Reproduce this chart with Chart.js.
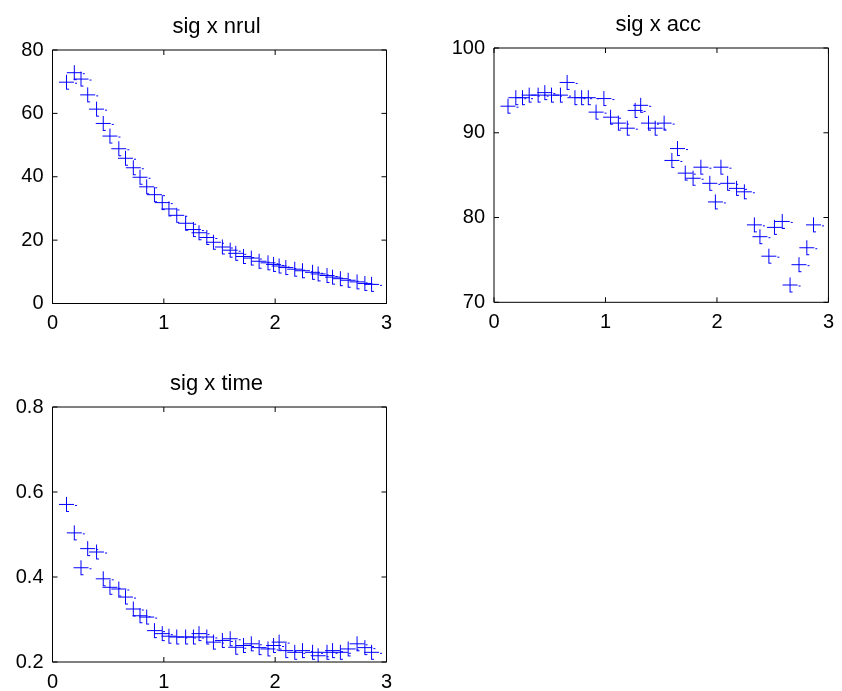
<!DOCTYPE html>
<html>
<head>
<meta charset="utf-8">
<script src="https://cdn.jsdelivr.net/npm/chart.js@4.4.0/dist/chart.umd.min.js"></script>
<style>
  body { margin: 0; background: #fff; }
  #wrap { position: relative; width: 842px; height: 691px; }
  canvas { position: absolute; }
</style>
</head>
<body>
<div id="wrap">
  <canvas id="c1" width="410" height="340" style="left:0;top:0"></canvas>
  <canvas id="c2" width="402" height="340" style="left:440px;top:0"></canvas>
  <canvas id="c3" width="410" height="341" style="left:0;top:350px"></canvas>
</div>
<script>
// sig values (x) shared by all three subplots
const sigValues = [0.13, 0.20, 0.26, 0.32, 0.40, 0.46, 0.52, 0.60, 0.66, 0.73, 0.79, 0.85, 0.92, 0.99,
  1.05, 1.12, 1.20, 1.27, 1.32, 1.39, 1.45, 1.53, 1.60, 1.65, 1.72, 1.79, 1.86, 1.94, 1.99, 2.04,
  2.10, 2.18, 2.25, 2.34, 2.39, 2.47, 2.52, 2.59, 2.66, 2.74, 2.81, 2.87];

const nrulValues = [70, 73, 71, 66, 61.5, 57, 53, 49, 46, 43, 40, 37, 34.5, 32,
  30, 28, 25.5, 23.5, 22.5, 21, 19.5, 18, 17, 16, 15, 14.5, 13.5, 13, 12.5, 12,
  11.5, 11, 10.5, 10, 9.5, 9, 8.5, 8, 7.5, 7, 6.5, 6.2];

const accValues = [93.2, 94.2, 94.2, 94.5, 94.5, 94.8, 94.5, 94.5, 96.0, 94.2, 94.2, 94.2, 92.5, 94.1,
  91.9, 91.2, 90.6, 92.7, 93.3, 91.2, 90.6, 91.2, 86.8, 88.2, 85.3, 84.7, 86.0, 84.1, 81.9, 86.0,
  84.1, 83.5, 83.1, 79.2, 77.8, 75.5, 78.9, 79.6, 72.1, 74.5, 76.5, 79.2];

const timeValues = [0.572, 0.505, 0.423, 0.468, 0.46, 0.397, 0.377, 0.373, 0.354, 0.326, 0.31, 0.307, 0.275, 0.268,
  0.262, 0.26, 0.26, 0.26, 0.268, 0.26, 0.248, 0.252, 0.256, 0.236, 0.24, 0.244, 0.235, 0.232, 0.24, 0.248,
  0.228, 0.224, 0.228, 0.224, 0.216, 0.224, 0.228, 0.224, 0.232, 0.244, 0.235, 0.224];

const xRange = [0, 3];
const nrulRange = [0, 80, 20];
const accRange = [70, 100, 10];
const timeRange = [0.2, 0.8, 0.2];

const titles = ['sig x nrul', 'sig x acc', 'sig x time'];

const FONT = 'Liberation Sans, Arial, Helvetica, sans-serif';

// plus marker, with the little offset dash the original has
function makeMarker() {
    const c = document.createElement('canvas');
    c.width = 24; c.height = 24;
    const g = c.getContext('2d');
    g.lineWidth = 1;
    g.strokeStyle = '#0000ff';
    g.beginPath();
    g.moveTo(4, 12.5); g.lineTo(19, 12.5);
    g.moveTo(11.5, 5); g.lineTo(11.5, 20);
    g.moveTo(11.5, 19.5); g.lineTo(14, 19.5);
    g.moveTo(20, 13.5); g.lineTo(22, 13.5);
    g.stroke();
    return c;
}
const marker = makeMarker();

// box around the axes, ticks pointing inward, title above
const matlabAxes = {
    id: 'matlabAxes',
    afterDatasetsDraw(chart, args, opts) {
        const ctx = chart.ctx;
        const a = chart.chartArea;
        const xs = chart.scales.x, ys = chart.scales.y;
        const L = 5;
        ctx.save();
        ctx.strokeStyle = '#000';
        ctx.lineWidth = 1;
        ctx.beginPath();
        ctx.rect(a.left, a.top, a.right - a.left, a.bottom - a.top);
        xs.ticks.forEach(t => {
            const px = xs.getPixelForValue(t.value);
            ctx.moveTo(px, a.bottom); ctx.lineTo(px, a.bottom - L);
            ctx.moveTo(px, a.top); ctx.lineTo(px, a.top + L);
        });
        ys.ticks.forEach(t => {
            const py = ys.getPixelForValue(t.value);
            ctx.moveTo(a.left, py); ctx.lineTo(a.left + L, py);
            ctx.moveTo(a.right, py); ctx.lineTo(a.right - L, py);
        });
        ctx.stroke();
        ctx.fillStyle = '#000';
        ctx.font = '22px ' + FONT;
        ctx.textAlign = 'center';
        ctx.textBaseline = 'middle';
        ctx.fillText(opts.text, (a.left + a.right) / 2 - 3, a.top - 23);
        ctx.restore();
    }
};

function makeChart(id, yValues, yRange, title, pad, yWidth, xHeight) {
    const points = sigValues.map((s, i) => ({ x: s, y: yValues[i] }));
    return new Chart(document.getElementById(id), {
        type: 'scatter',
        data: {
            datasets: [{
                data: points,
                pointStyle: marker,
                borderColor: '#0000ff',
                backgroundColor: '#0000ff'
            }]
        },
        options: {
            responsive: false,
            animation: false,
            layout: { padding: pad },
            plugins: {
                legend: { display: false },
                tooltip: { enabled: false },
                matlabAxes: { text: title }
            },
            scales: {
                x: {
                    type: 'linear',
                    min: xRange[0],
                    max: xRange[1],
                    grid: { display: false, drawTicks: false },
                    border: { display: false },
                    ticks: { stepSize: 1, color: '#000', padding: 8, font: { family: FONT, size: 20 } },
                    afterFit: s => { s.height = xHeight; }
                },
                y: {
                    type: 'linear',
                    min: yRange[0],
                    max: yRange[1],
                    grid: { display: false, drawTicks: false },
                    border: { display: false },
                    ticks: { stepSize: yRange[2], color: '#000', padding: 9, font: { family: FONT, size: 20 } },
                    afterFit: s => { s.width = yWidth; }
                }
            }
        },
        plugins: [matlabAxes]
    });
}

makeChart('c1', nrulValues, nrulRange, titles[0], { top: 50, right: 23.5, left: 0, bottom: 0 }, 52.5, 36.5);
makeChart('c2', accValues, accRange, titles[1], { top: 48, right: 10.3, left: 0, bottom: 0 }, 54, 37.7);
makeChart('c3', timeValues, timeRange, titles[2], { top: 57, right: 23.5, left: 0, bottom: 0 }, 52.5, 29);
</script>
</body>
</html>
